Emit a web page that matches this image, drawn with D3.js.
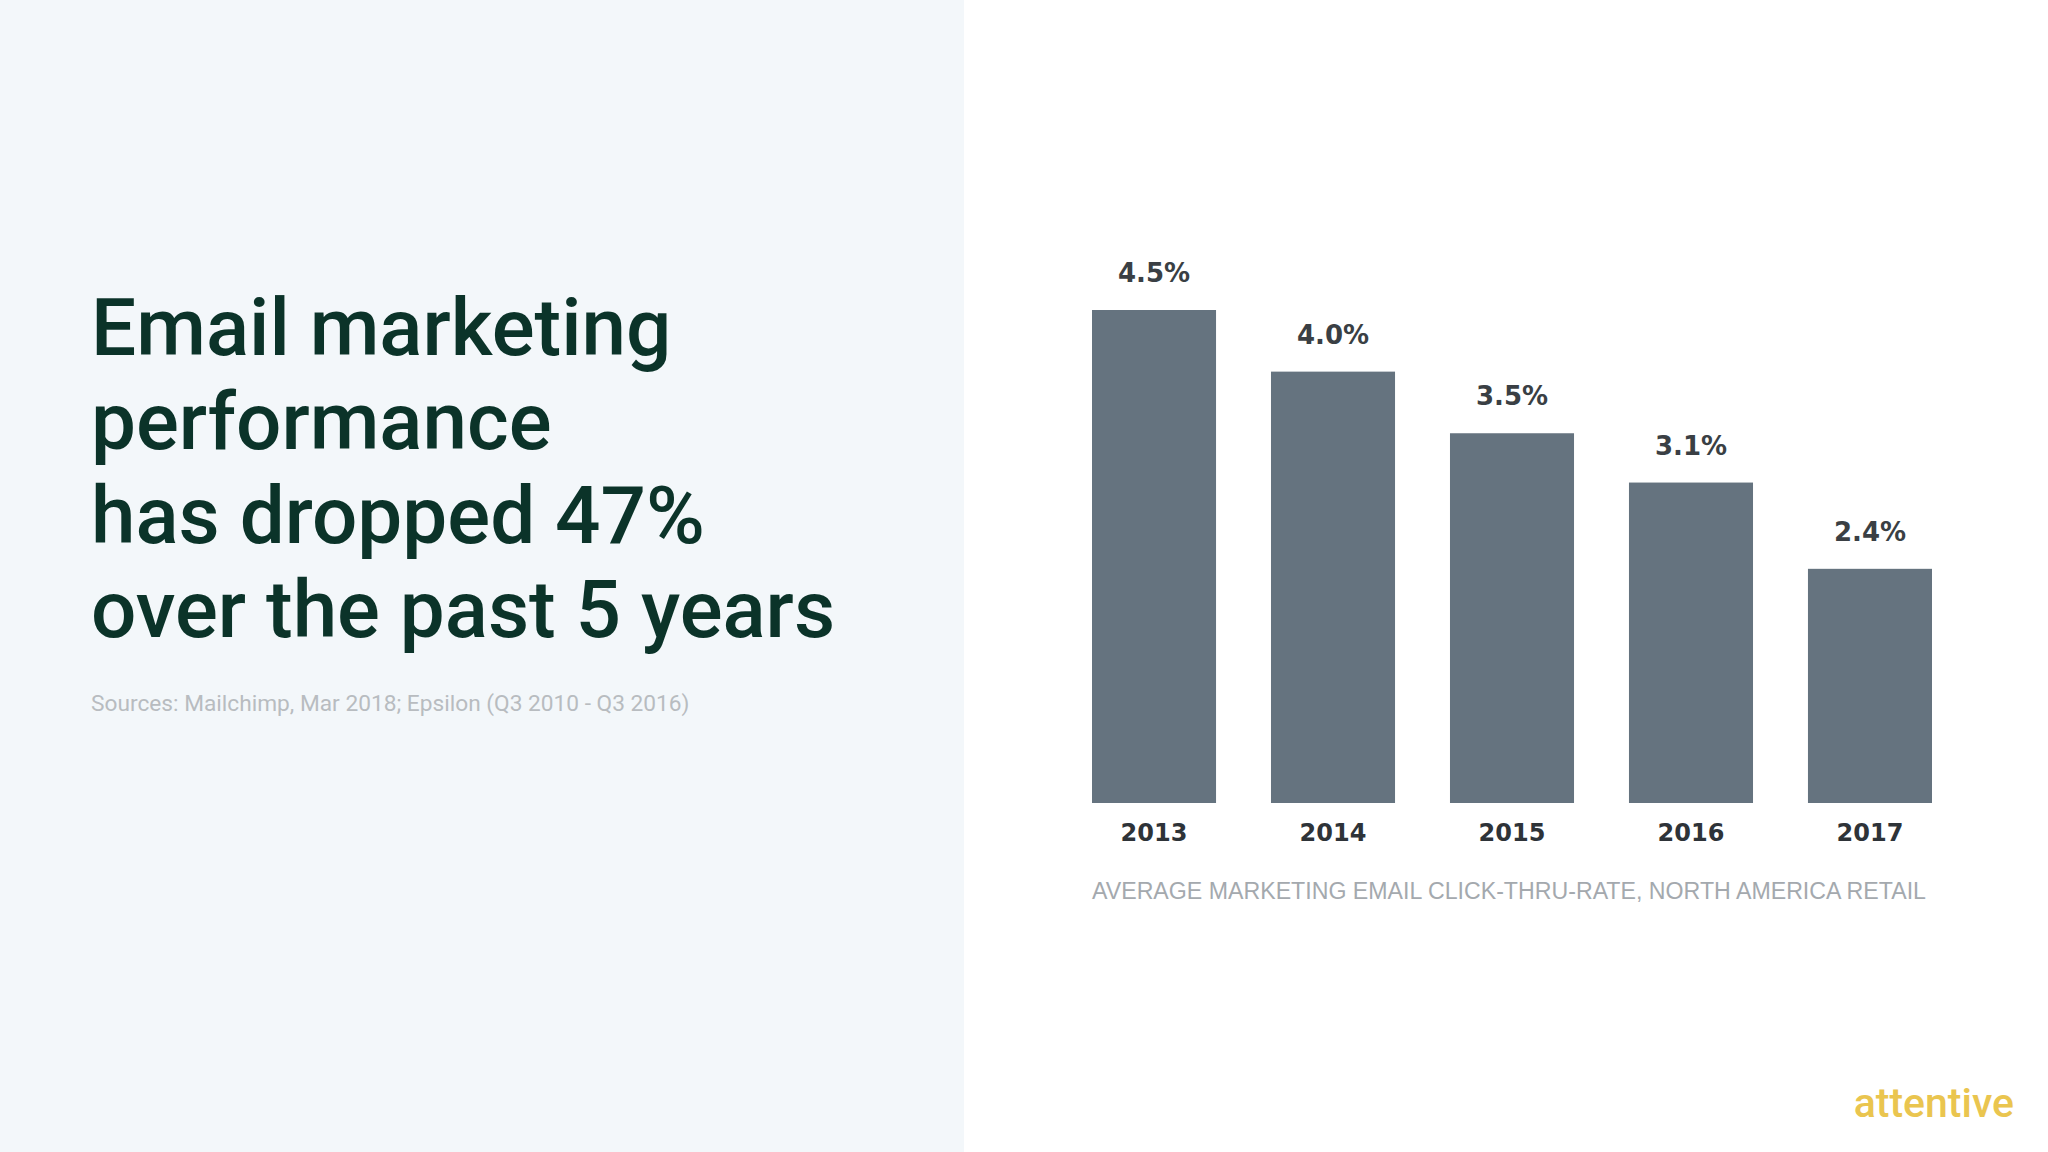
<!DOCTYPE html>
<html><head><meta charset="utf-8">
<script src="https://cdn.jsdelivr.net/npm/d3@7"></script>
<style>body{margin:0;background:#fff}</style>
</head><body>
<script>
var years = ["2013", "2014", "2015", "2016", "2017"];
var rates = [4.5, 4.0, 3.5, 3.1, 2.4];
var rateLabels = ["4.5%", "4.0%", "3.5%", "3.1%", "2.4%"];
var titleLines = ["Email marketing", "performance", "has dropped 47%", "over the past 5 years"];

var svg = d3.select("body").append("svg").attr("width", 2048).attr("height", 1152);

// left panel
svg.append("rect").attr("width", 964).attr("height", 1152).attr("fill", "#f3f7fa");
svg.selectAll(".title").data(titleLines).enter().append("text")
  .attr("x", 91).attr("y", function(d, i) { return 355 + i * 94; })
  .attr("font-family", "Roboto").attr("font-weight", 500).attr("font-size", 80)
  .attr("fill", "#0b3329").text(function(d) { return d; });
svg.append("text").attr("x", 91).attr("y", 711)
  .attr("font-family", "Roboto").attr("font-size", 22.7).attr("fill", "#b8bcc0")
  .text("Sources: Mailchimp, Mar 2018; Epsilon (Q3 2010 - Q3 2016)");

// bars
var x = d3.scaleBand().domain(years).range([1092, 1932]).paddingInner(0.307).paddingOuter(0);
var y = d3.scaleLinear().domain([0.5, 4.5]).range([803, 310]);

svg.selectAll(".bar").data(rates).enter().append("rect")
  .attr("x", function(d, i) { return x(years[i]); })
  .attr("y", function(d) { return y(d); })
  .attr("width", x.bandwidth())
  .attr("height", function(d) { return 803 - y(d); })
  .attr("fill", "#65737f");

svg.selectAll(".val").data(rates).enter().append("text")
  .attr("x", function(d, i) { return x(years[i]) + x.bandwidth() / 2; })
  .attr("y", function(d) { return y(d) - 28; })
  .attr("text-anchor", "middle").attr("font-family", "DejaVu Sans").attr("font-weight", "bold")
  .attr("font-size", 26).attr("fill", "#3a3f44")
  .text(function(d, i) { return rateLabels[i]; });

svg.selectAll(".yr").data(years).enter().append("text")
  .attr("x", function(d) { return x(d) + x.bandwidth() / 2; })
  .attr("y", 841)
  .attr("text-anchor", "middle").attr("font-family", "DejaVu Sans").attr("font-weight", "bold")
  .attr("font-size", 24).attr("fill", "#2e3338")
  .text(function(d) { return d; });

svg.append("text").attr("x", 1092).attr("y", 899)
  .attr("textLength", 834).attr("lengthAdjust", "spacingAndGlyphs")
  .attr("font-family", "Liberation Sans").attr("font-size", 23).attr("fill", "#a4a9ae")
  .text("AVERAGE MARKETING EMAIL CLICK-THRU-RATE, NORTH AMERICA RETAIL");

svg.append("text").attr("x", 2014).attr("y", 1117).attr("text-anchor", "end")
  .attr("font-family", "Roboto").attr("font-weight", 500).attr("font-size", 41)
  .attr("fill", "#eac54f").text("attentive");
</script>
</body></html>
